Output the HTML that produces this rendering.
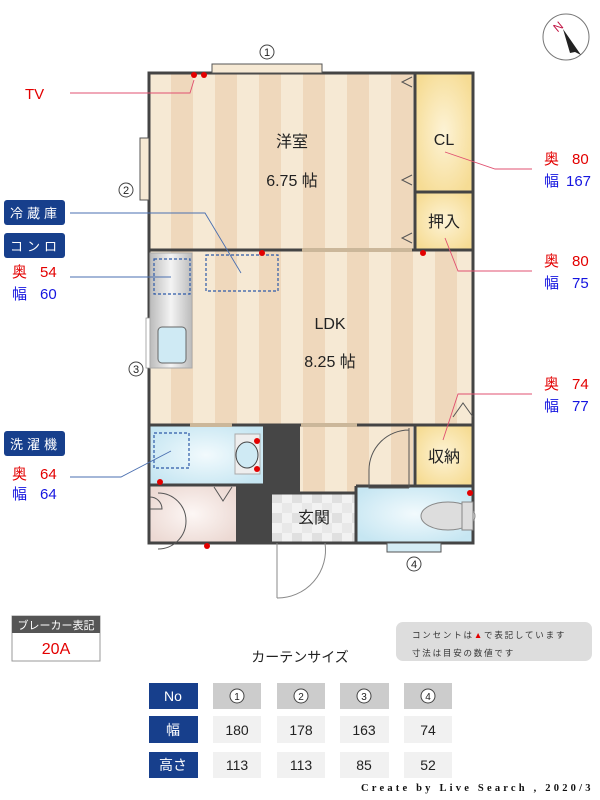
<!DOCTYPE html>
<html><head><meta charset="utf-8"><style>
body{margin:0;background:#fff}
svg{display:block;font-family:"Liberation Sans","Noto Sans CJK JP",sans-serif}
</style></head><body>
<svg width="600" height="800" viewBox="0 0 600 800" xmlns="http://www.w3.org/2000/svg">
<defs>
<pattern id="st" x="149" y="0" width="44" height="10" patternUnits="userSpaceOnUse">
<rect width="44" height="10" fill="#f6e9d4"/><rect x="22" width="22" height="10" fill="#efd8bc"/></pattern>
<radialGradient id="yl" cx="50%" cy="50%" r="60%"><stop offset="0" stop-color="#fdf3d6"/><stop offset="1" stop-color="#f6dc94"/></radialGradient>
<radialGradient id="bl" cx="50%" cy="50%" r="60%"><stop offset="0" stop-color="#f2fafd"/><stop offset="1" stop-color="#c6e6f2"/></radialGradient>
<radialGradient id="pk" cx="50%" cy="50%" r="60%"><stop offset="0" stop-color="#fdf7f5"/><stop offset="1" stop-color="#ecd9d3"/></radialGradient>
<linearGradient id="ss" x1="0" x2="1"><stop offset="0" stop-color="#bbb"/><stop offset=".5" stop-color="#f4f4f4"/><stop offset="1" stop-color="#bbb"/></linearGradient>
<pattern id="tl" x="272" y="493" width="20" height="20" patternUnits="userSpaceOnUse"><rect width="20" height="20" fill="#f2f2f2"/><rect width="10" height="10" fill="#e0e0e0"/><rect x="10" y="10" width="10" height="10" fill="#e8e8e8"/></pattern>
</defs>
<rect x="149" y="73" width="324" height="352" fill="url(#st)"/>
<rect x="300" y="425" width="113" height="68" fill="url(#st)"/>
<rect x="415" y="73" width="58" height="119" fill="url(#yl)"/>
<rect x="415" y="192" width="58" height="58" fill="url(#yl)"/>
<rect x="415" y="425" width="58" height="60" fill="url(#yl)"/>
<rect x="149" y="425" width="114" height="60" fill="url(#bl)"/>
<rect x="356" y="486" width="117" height="56" fill="url(#bl)"/>
<rect x="149" y="485" width="87" height="58" fill="url(#pk)"/>
<rect x="272" y="493" width="84" height="50" fill="url(#tl)"/>
<g stroke="#444" stroke-width="3" fill="none">
<rect x="149" y="73" width="324" height="470"/>
<line x1="149" y1="250" x2="473" y2="250"/>
<line x1="415" y1="73" x2="415" y2="250"/>
<line x1="415" y1="192" x2="473" y2="192"/>
<line x1="149" y1="425" x2="473" y2="425"/>
<line x1="415" y1="425" x2="415" y2="486"/>
<line x1="149" y1="485" x2="263" y2="485"/>
<line x1="356" y1="486" x2="473" y2="486"/>
<line x1="356" y1="486" x2="356" y2="543"/>
<line x1="272" y1="493" x2="356" y2="493"/>
</g>
<rect x="263" y="425" width="37" height="68" fill="#464646"/>
<rect x="236" y="485" width="36" height="59" fill="#464646"/>
<rect x="212" y="64" width="110" height="9" fill="#f6e9d4" stroke="#555"/>
<rect x="140" y="138" width="9" height="62" fill="#f6e9d4" stroke="#555"/>
<rect x="146" y="318" width="4" height="50" fill="#fff" stroke="#888" stroke-width=".7"/>
<rect x="387" y="543" width="54" height="9" fill="#d4ecf5" stroke="#555"/>
<rect x="302" y="248" width="110" height="4" fill="#cbb79a"/>
<rect x="190" y="423" width="42" height="4" fill="#cbb79a"/>
<rect x="301" y="423" width="56" height="4" fill="#cbb79a"/>
<g stroke="#555" fill="none">
<path d="M412 77 l-10 5 10 5M412 175 l-10 5 10 5M412 233 l-10 5 10 5M453 417 l10 -14 10 14M214 487 l9 14 9 -14"/>
<path d="M409 428 v60 M409 430 a40 40 0 0 0 -40 40 v18 h40"/>
<path d="M158 493 a28 28 0 0 1 28 28 a28 28 0 0 1 -28 28M150 497 a12 12 0 0 1 12 12 h-12" />
<path d="M277 543 v55 M325 543 a48 48 0 0 1 -48 55" stroke="#888"/>
</g>
<rect x="150" y="253" width="42" height="115" fill="url(#ss)" stroke="#aaa"/>
<rect x="158" y="327" width="28" height="36" rx="4" fill="#cfeaf4" stroke="#666"/>
<g stroke="#2d5aa8" stroke-dasharray="3 2" fill="none" stroke-width="1.2">
<rect x="154" y="259" width="36" height="35"/><rect x="206" y="255" width="72" height="36"/><rect x="154" y="433" width="35" height="35"/></g>
<rect x="235" y="434" width="25" height="40" fill="#eee" stroke="#aaa"/>
<ellipse cx="247" cy="455" rx="11" ry="13" fill="#cfeaf4" stroke="#444"/>
<ellipse cx="448" cy="516" rx="27" ry="14" fill="#ddd" stroke="#888"/>
<rect x="462" y="502" width="11" height="28" fill="#ddd" stroke="#888"/>
<g fill="#e30000"><circle cx="194" cy="75" r="3"/><circle cx="204" cy="75" r="3"/><circle cx="262" cy="253" r="3"/><circle cx="423" cy="253" r="3"/><circle cx="257" cy="441" r="3"/><circle cx="257" cy="469" r="3"/><circle cx="160" cy="482" r="3"/><circle cx="207" cy="546" r="3"/><circle cx="470" cy="493" r="3"/></g>
<g font-size="16" fill="#222" text-anchor="middle">
<text x="292" y="147">洋室</text><text x="292" y="186">6.75 帖</text>
<text x="444" y="145">CL</text><text x="444" y="227">押入</text>
<text x="330" y="329">LDK</text><text x="330" y="367">8.25 帖</text>
<text x="444" y="462">収納</text><text x="314" y="523">玄関</text>
</g>
<g font-size="11" text-anchor="middle" fill="#222"><g fill="#fff" stroke="#444"><circle cx="267" cy="52" r="7"/><circle cx="126" cy="190" r="7"/><circle cx="136" cy="369" r="7"/><circle cx="414" cy="564" r="7"/></g>
<text x="267" y="56">1</text><text x="126" y="194">2</text><text x="136" y="373">3</text><text x="414" y="568">4</text></g>
<g fill="none" stroke-width=".9">
<path d="M70 93 H190 L194 80" stroke="#e05070"/>
<path d="M70 213 H205 L241 273" stroke="#4a6fb0"/>
<path d="M70 277 H171" stroke="#4a6fb0"/>
<path d="M70 477 H121 L171 451" stroke="#4a6fb0"/>
<path d="M445 152 L495 169 H532" stroke="#e05070"/>
<path d="M445 238 L458 271 H532" stroke="#e05070"/>
<path d="M443 440 L458 394 H532" stroke="#e05070"/>
</g>
<text x="25" y="99" font-size="15" fill="#e30000">TV</text>
<g fill="#173f8c"><rect x="4" y="200" width="61" height="25" rx="3"/><rect x="4" y="233" width="61" height="25" rx="3"/><rect x="4" y="431" width="61" height="25" rx="3"/></g>
<g fill="#fff" font-size="13" letter-spacing="4"><text x="10" y="218">冷蔵庫</text><text x="10" y="251">コンロ</text><text x="10" y="449">洗濯機</text></g>
<g font-size="15"><text x="12" y="277" fill="#e30000">奥</text><text x="40" y="277" fill="#e30000">54</text>
<text x="12" y="299" fill="#1515e0">幅</text><text x="40" y="299" fill="#1515e0">60</text>
<text x="12" y="479" fill="#e30000">奥</text><text x="40" y="479" fill="#e30000">64</text>
<text x="12" y="499" fill="#1515e0">幅</text><text x="40" y="499" fill="#1515e0">64</text>
<text x="544" y="164" fill="#e30000">奥</text><text x="572" y="164" fill="#e30000">80</text>
<text x="544" y="186" fill="#1515e0">幅</text><text x="566" y="186" fill="#1515e0">167</text>
<text x="544" y="266" fill="#e30000">奥</text><text x="572" y="266" fill="#e30000">80</text>
<text x="544" y="288" fill="#1515e0">幅</text><text x="572" y="288" fill="#1515e0">75</text>
<text x="544" y="389" fill="#e30000">奥</text><text x="572" y="389" fill="#e30000">74</text>
<text x="544" y="411" fill="#1515e0">幅</text><text x="572" y="411" fill="#1515e0">77</text></g>
<circle cx="566" cy="37" r="23" fill="#fff" stroke="#777"/>
<path d="M563 29 L581 55 L575 52 L570 53 Z" fill="#222"/>
<text x="554" y="31" font-size="12" fill="#c01040" transform="rotate(-40 558 27)">N</text>
<rect x="12" y="616" width="88" height="45" fill="#fff" stroke="#999"/>
<rect x="12" y="616" width="88" height="17" fill="#555"/>
<text x="56" y="629" font-size="11" fill="#fff" text-anchor="middle">ブレーカー表記</text>
<text x="56" y="654" font-size="16" fill="#e30000" text-anchor="middle">20A</text>
<rect x="396" y="622" width="196" height="39" rx="7" fill="#ddd"/>
<text x="412" y="638" font-size="8.5" fill="#333" letter-spacing="1.8">コンセントは<tspan fill="#e30000">▲</tspan>で表記しています</text>
<text x="412" y="656" font-size="8.5" fill="#333" letter-spacing="1.8">寸法は目安の数値です</text>
<text x="300" y="662" font-size="14" fill="#222" text-anchor="middle">カーテンサイズ</text>
<g fill="#173f8c"><rect x="149" y="683" width="49" height="26"/><rect x="149" y="716" width="49" height="27"/><rect x="149" y="752" width="49" height="26"/></g>
<g fill="#fff" font-size="14" text-anchor="middle"><text x="173" y="701">No</text><text x="173" y="735">幅</text><text x="173" y="770">高さ</text></g>
<g fill="#ccc"><rect x="213" y="683" width="48" height="26"/><rect x="277" y="683" width="48" height="26"/><rect x="340" y="683" width="49" height="26"/><rect x="404" y="683" width="48" height="26"/></g>
<g fill="#f1f1f1"><rect x="213" y="716" width="48" height="27"/><rect x="277" y="716" width="48" height="27"/><rect x="340" y="716" width="49" height="27"/><rect x="404" y="716" width="48" height="27"/>
<rect x="213" y="752" width="48" height="26"/><rect x="277" y="752" width="48" height="26"/><rect x="340" y="752" width="49" height="26"/><rect x="404" y="752" width="48" height="26"/></g>
<g fill="#fff" stroke="#444"><circle cx="237" cy="696" r="7"/><circle cx="301" cy="696" r="7"/><circle cx="364" cy="696" r="7"/><circle cx="428" cy="696" r="7"/></g>
<g font-size="14" text-anchor="middle" fill="#222">
<text x="237" y="700" font-size="10">1</text><text x="301" y="700" font-size="10">2</text><text x="364" y="700" font-size="10">3</text><text x="428" y="700" font-size="10">4</text>
<text x="237" y="735">180</text><text x="301" y="735">178</text><text x="364" y="735">163</text><text x="428" y="735">74</text>
<text x="237" y="770">113</text><text x="301" y="770">113</text><text x="364" y="770">85</text><text x="428" y="770">52</text></g>
<text x="361" y="791" font-size="10.5" font-family="Liberation Serif,serif" font-weight="bold" letter-spacing="3.2" fill="#111">Create by Live Search , 2020/3</text>
</svg>
</body></html>
